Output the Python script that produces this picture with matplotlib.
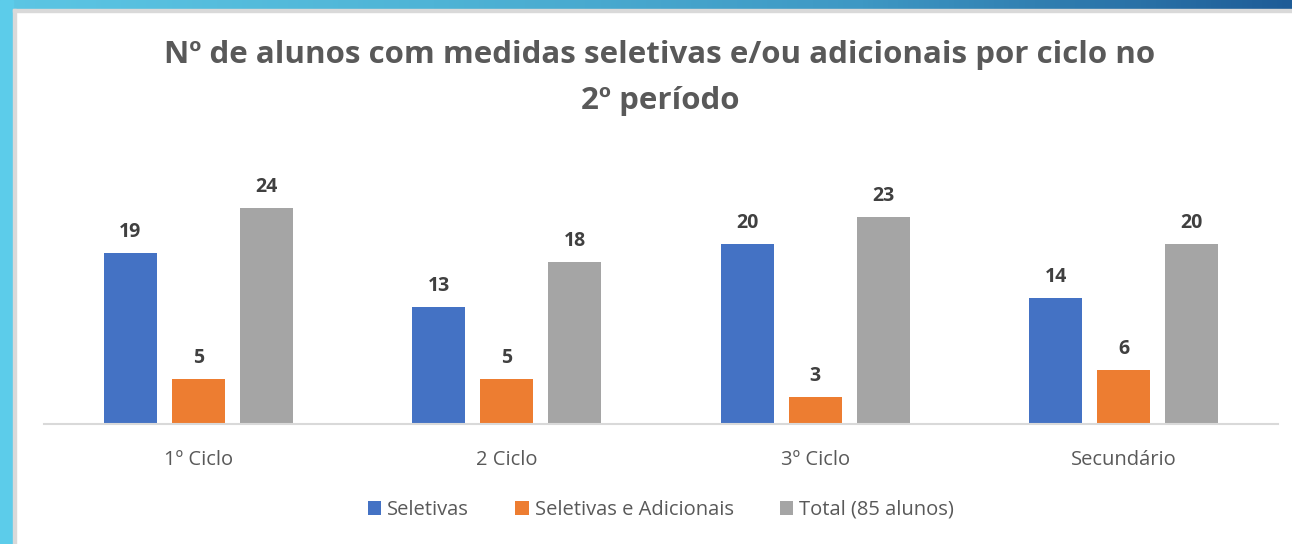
import matplotlib
matplotlib.use("Agg")
import matplotlib.pyplot as plt
from matplotlib.patches import Rectangle
from matplotlib.colors import LinearSegmentedColormap
import numpy as np

# dados do grafico
ciclos = ['1º Ciclo', '2 Ciclo', '3º Ciclo', 'Secundário']
seletivas = [19, 13, 20, 14]
seletivas_adicionais = [5, 5, 3, 6]
total = [24, 18, 23, 20]
series_nomes = ['Seletivas', 'Seletivas e Adicionais', 'Total (85 alunos)']
titulo = 'Nº de alunos com medidas seletivas e/ou adicionais por ciclo no\n2º período'

cores = ['#4472C4', '#ED7D31', '#A5A5A5']

plt.rcParams['font.family'] = ['Open Sans', 'DejaVu Sans']

W, H = 1292, 544
fig = plt.figure(figsize=(W / 100, H / 100), dpi=100)

# moldura de fundo (faixa azul esquerda e superior)
bg = fig.add_axes([0, 0, 1, 1], zorder=-10)
bg.set_xlim(0, W)
bg.set_ylim(H, 0)
bg.axis('off')
grad = LinearSegmentedColormap.from_list('g', ['#5CC6E4', '#4FB4D6', '#3E98C4', '#1E5C97'])
bg.imshow(np.linspace(0, 1, 256).reshape(1, -1), cmap=grad, aspect='auto',
          extent=(0, W, 9, 0))
bg.add_patch(Rectangle((0, 0), 13, H, color='#5CCCEA'))
bg.add_patch(Rectangle((13, 9), 3, H, color='#D9D9D9'))
bg.add_patch(Rectangle((13, 9), W, 3, color='#D9D9D9'))

# eixo principal
ax = fig.add_axes([44 / W, 1 - 424 / H, (1278 - 44) / W, 270 / H])
x = np.arange(len(ciclos))
largura = 0.172
passo = 0.22
valores = [seletivas, seletivas_adicionais, total]
for i, (vals, nome, cor) in enumerate(zip(valores, series_nomes, cores)):
    pos = x + (i - 1) * passo
    barras = ax.bar(pos, vals, largura, color=cor, label=nome)
    for b, v in zip(barras, vals):
        ax.text(b.get_x() + b.get_width() / 2, v + 2.35, str(v), ha='center',
                va='center', fontsize=14, fontweight='bold', color='#404040')

ax.set_xlim(-0.5, len(ciclos) - 0.5)
ax.set_ylim(0, 30)
ax.set_yticks([])
for s in ['top', 'right', 'left']:
    ax.spines[s].set_visible(False)
ax.spines['bottom'].set_color('#D9D9D9')
ax.spines['bottom'].set_linewidth(1.5)
ax.set_xticks(x)
ax.set_xticklabels(ciclos, fontsize=14.5, color='#595959')
ax.tick_params(axis='x', length=0, pad=19)

fig.text(660 / W, 1 - 78 / H, titulo, ha='center', va='center', fontsize=22.5,
         fontweight='bold', color='#595959', linespacing=1.7)

ax.legend(loc='center', bbox_to_anchor=(0.5, (424 - 510) / 270), ncol=3,
          frameon=False, fontsize=14.5, labelcolor='#595959', handlelength=0.65,
          handleheight=0.65, handletextpad=0.3, columnspacing=2.3)

fig.savefig('out.png', dpi=100)
